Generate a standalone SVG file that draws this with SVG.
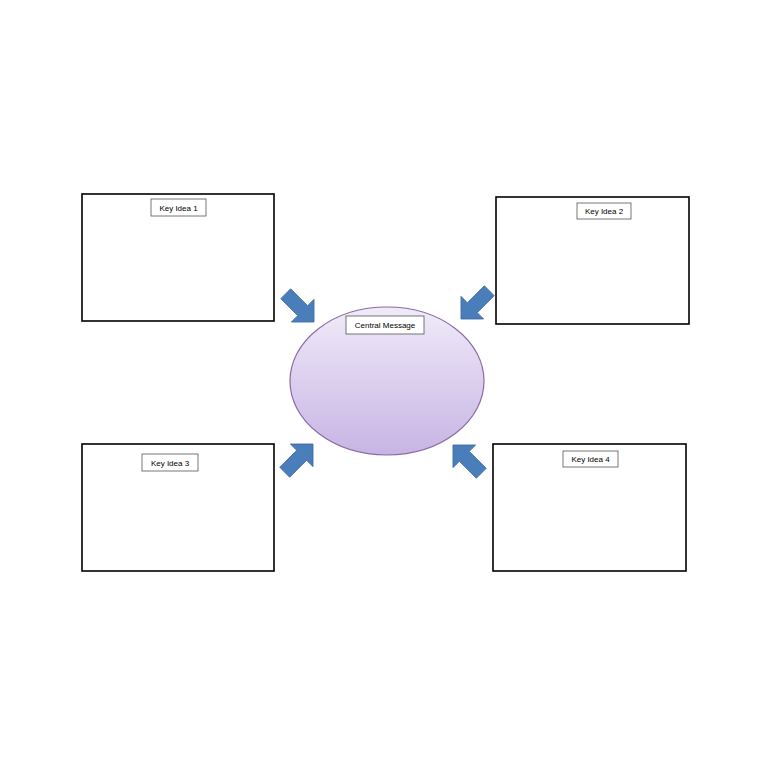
<svg xmlns="http://www.w3.org/2000/svg" width="768" height="768" viewBox="0 0 768 768">
<style>
.box{fill:#fff;stroke:#000;stroke-width:1.6}
.lbl{fill:#fff;stroke:#555;stroke-width:0.8}
text{font-family:"Liberation Sans",Arial,sans-serif;font-size:8px;fill:#000;text-anchor:middle}
.arr{fill:#4a7ebb;stroke:#3a6a9f;stroke-width:0.8}
</style>
<defs>
<linearGradient id="g" x1="0" y1="0" x2="0" y2="1"><stop offset="0" stop-color="#f0ebf8"/><stop offset="1" stop-color="#c7b4e4"/></linearGradient>
<polygon id="a" points="-40,-7 -16,-7 -16,-16 0,0 -16,16 -16,7 -40,7"/>
</defs>
<rect width="768" height="768" fill="#fff"/>
<g id="n1"><rect class="box" x="82" y="194" width="192" height="127"/><rect class="lbl" x="151" y="199" width="55" height="17"/><text x="178.5" y="210.5">Key Idea 1</text></g>
<g id="n2"><rect class="box" x="496" y="197" width="193" height="127"/><rect class="lbl" x="577" y="203" width="54" height="16"/><text x="604" y="214">Key Idea 2</text></g>
<g id="n3"><rect class="box" x="82" y="444" width="192" height="127"/><rect class="lbl" x="142" y="454" width="56" height="17"/><text x="170" y="465.5">Key Idea 3</text></g>
<g id="n4"><rect class="box" x="493" y="444" width="193" height="127"/><rect class="lbl" x="563" y="451" width="55" height="16"/><text x="590.5" y="462">Key Idea 4</text></g>
<g id="center"><ellipse cx="387" cy="381" rx="97" ry="74" fill="url(#g)" stroke="#8a6aa8" stroke-width="1.2"/><rect class="lbl" x="346" y="316" width="78" height="18"/><text x="385" y="328">Central Message</text></g>
<g id="connectors">
<use href="#a" class="arr" transform="translate(314,322) rotate(45)"/>
<use href="#a" class="arr" transform="translate(461,319) rotate(135)"/>
<use href="#a" class="arr" transform="translate(313,444) rotate(-45)"/>
<use href="#a" class="arr" transform="translate(453,445) rotate(-135)"/>
</g>
</svg>
